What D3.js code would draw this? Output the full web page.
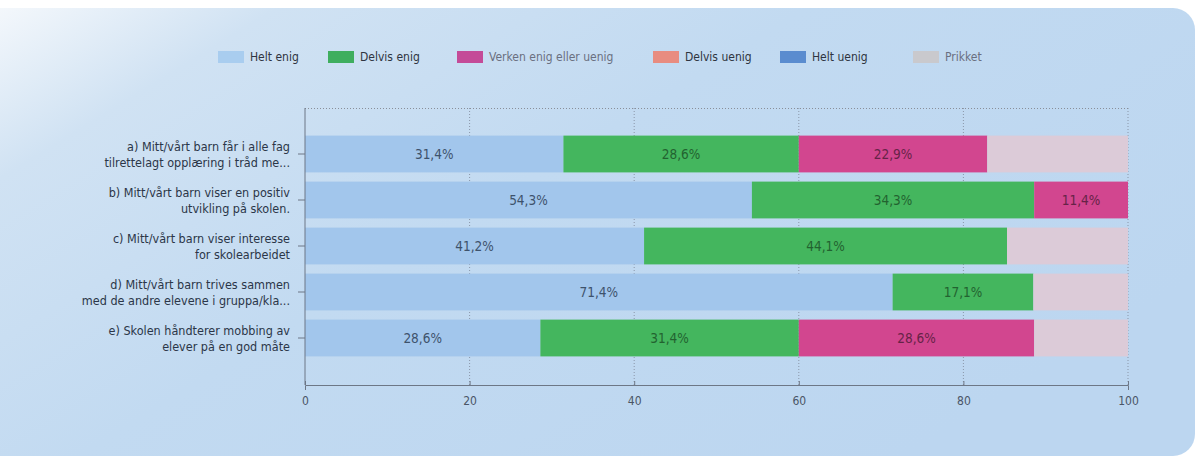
<!DOCTYPE html>
<html><head><meta charset="utf-8">
<script src="https://cdn.jsdelivr.net/npm/d3@7"></script>
<style>html,body{margin:0;padding:0;background:#fff;}svg{display:block;}</style>
</head><body>
<svg id="chart" width="1203" height="462"></svg>
<script>
const categories = [
  ["a) Mitt/vårt barn får i alle fag", "tilrettelagt opplæring i tråd me..."],
  ["b) Mitt/vårt barn viser en positiv", "utvikling på skolen."],
  ["c) Mitt/vårt barn viser interesse", "for skolearbeidet"],
  ["d) Mitt/vårt barn trives sammen", "med de andre elevene i gruppa/kla..."],
  ["e) Skolen håndterer mobbing av", "elever på en god måte"]
];
const seriesNames = ["Helt enig", "Delvis enig", "Verken enig eller uenig", "Delvis uenig", "Helt uenig", "Prikket"];
const heltEnig    = [31.4, 54.3, 41.2, 71.4, 28.6];
const delvisEnig  = [28.6, 34.3, 44.1, 17.1, 31.4];
const verken      = [22.9, 11.4, 0, 0, 28.6];
const delvisUenig = [0, 0, 0, 0, 0];
const heltUenig   = [0, 0, 0, 0, 0];
const prikket     = [17.1, 0, 14.7, 11.5, 11.4];
const xTicks = [0, 20, 40, 60, 80, 100];

const seriesValues = [heltEnig, delvisEnig, verken, delvisUenig, heltUenig, prikket];
const barColors = ["#a2c6ec", "#44b65e", "#d2468f", "#e8877c", "#5a8ccf", "#dccbd8"];
const swatchColors = ["#a9cdef", "#3fae5f", "#c44b98", "#e88c80", "#5a8ccf", "#c9c9cd"];

const svg = d3.select("#chart");
const defs = svg.append("defs");
const grad = defs.append("linearGradient").attr("id","bg").attr("x1","0").attr("y1","0").attr("x2","1").attr("y2","0.6");
grad.append("stop").attr("offset","0").attr("stop-color","#f6f9fc");
grad.append("stop").attr("offset","0.18").attr("stop-color","#d0e2f3");
grad.append("stop").attr("offset","0.5").attr("stop-color","#c2daf1");
grad.append("stop").attr("offset","1").attr("stop-color","#bcd6f0");
svg.append("rect").attr("x",-20).attr("y",8).attr("width",1215).attr("height",448).attr("rx",22).attr("fill","url(#bg)");

const x = d3.scaleLinear().domain([0,100]).range([305,1128]);
const y = d3.scaleBand().domain(d3.range(categories.length)).range([131,361]).paddingInner(0.2).paddingOuter(0.1);
const plotTop = 108, plotBottom = 385;

// grid
const g = svg.append("g");
g.selectAll("line.grid").data(xTicks.slice(1)).join("line")
  .attr("x1", d=>x(d)).attr("x2", d=>x(d)).attr("y1", plotTop).attr("y2", plotBottom)
  .attr("stroke", "#8a96a8").attr("stroke-dasharray","1,2").attr("stroke-width",1);
g.append("line").attr("x1",x(0)).attr("x2",x(100)).attr("y1",plotTop+0.5).attr("y2",plotTop+0.5)
  .attr("stroke","#8a8f99").attr("stroke-dasharray","1,2");

// stacked bars
const stackData = categories.map((c,i)=>{ const o={i}; seriesNames.forEach((s,k)=>o[s]=seriesValues[k][i]); return o; });
const stacked = d3.stack().keys(seriesNames)(stackData);
const layers = svg.append("g").selectAll("g").data(stacked).join("g")
  .attr("fill", (d,k)=>barColors[k]);
layers.selectAll("rect").data(d=>d).join("rect")
  .attr("x", d=>x(d[0])).attr("width", d=>x(d[1])-x(d[0]))
  .attr("y", (d,i)=>y(i)).attr("height", y.bandwidth());

// value labels
const fmt = v => d3.format(".1f")(v).replace(".", ",") + "%";
const labelColors = ["#34465e", "#1f5a2c", "#5a2040", "#333", "#fff", "#333"];
stacked.forEach((layer,k)=>{
  if (seriesNames[k]==="Prikket") return;
  svg.append("g").selectAll("text").data(layer.filter(d=>d[1]-d[0]>0))
    .join("text")
    .attr("x", d=>(x(d[0])+x(d[1]))/2)
    .attr("y", d=>y(d.data.i)+y.bandwidth()/2)
    .attr("dy","0.35em").attr("text-anchor","middle")
    .attr("font-family","'DejaVu Sans Condensed', 'DejaVu Sans', sans-serif").attr("font-size",13.5)
    .attr("fill", labelColors[k]).attr("opacity",0.9)
    .text(d=>fmt(d[1]-d[0]));
});

// axes
const xAxis = d3.axisBottom(x).tickValues(xTicks).tickSize(5).tickPadding(6);
const ax = svg.append("g").attr("transform",`translate(0,${plotBottom})`).call(xAxis);
ax.select(".domain").attr("stroke","#6d7786");
ax.selectAll(".tick line").attr("stroke","#6d7786").attr("y1",-4).attr("y2",0);
ax.selectAll(".tick text").attr("fill","#4a5566").attr("font-size",12).attr("font-family","'DejaVu Sans Condensed', 'DejaVu Sans', sans-serif");

svg.append("line").attr("x1",x(0)).attr("x2",x(0)).attr("y1",plotTop).attr("y2",plotBottom).attr("stroke","#6d7786");
svg.append("g").selectAll("line").data(d3.range(categories.length)).join("line")
  .attr("x1",x(0)-7).attr("x2",x(0)).attr("y1",i=>y(i)+y.bandwidth()/2).attr("y2",i=>y(i)+y.bandwidth()/2).attr("stroke","#6d7786");

// category labels
const lab = svg.append("g").selectAll("text").data(categories).join("text")
  .attr("text-anchor","end").attr("font-family","'DejaVu Sans Condensed', 'DejaVu Sans', sans-serif")
  .attr("font-size",12.5).attr("fill","#2b3648");
lab.each(function(c,i){
  const t = d3.select(this); const cy = y(i)+y.bandwidth()/2;
  c.forEach((line,j)=>t.append("tspan").attr("x",290).attr("y", cy - 7 + j*16).attr("dy","0.35em").text(line));
});

// legend
const legendX = [218, 328, 457, 653, 780, 913];
const leg = svg.append("g").selectAll("g").data(seriesNames).join("g")
  .attr("transform",(d,k)=>`translate(${legendX[k]},51)`);
leg.append("rect").attr("width",26).attr("height",12).attr("fill",(d,k)=>swatchColors[k]);
leg.append("text").attr("x",32).attr("y",6).attr("dy","0.35em")
  .attr("font-family","'DejaVu Sans Condensed', 'DejaVu Sans', sans-serif").attr("font-size",12)
  .attr("fill",(d,k)=> (k===2||k===5)?"#6a6f80":"#2e3440").text(d=>d);
</script>
</body></html>
